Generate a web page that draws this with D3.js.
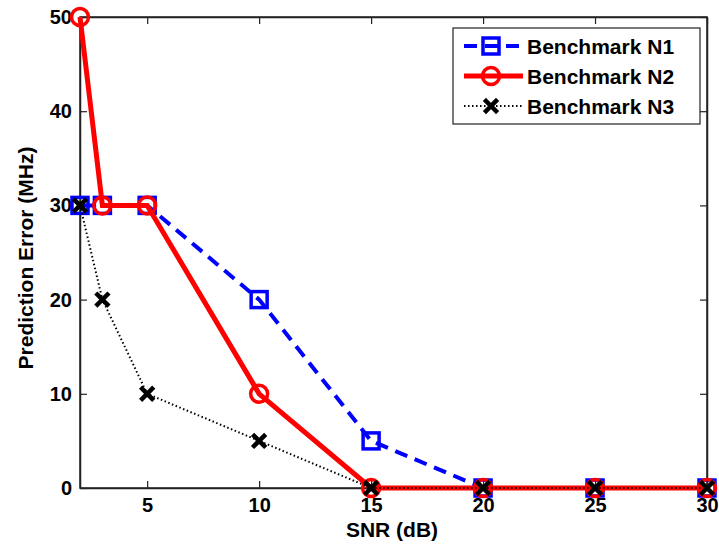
<!DOCTYPE html>
<html><head><meta charset="utf-8">
<script src="https://cdn.jsdelivr.net/npm/d3@7/dist/d3.min.js"></script>
<style>body{margin:0;background:#fff;} text{font-family:Arial,"Liberation Sans",sans-serif;font-weight:bold;}</style>
</head><body>
<svg id="c" width="719" height="548"></svg>
<script>
const snr = [2, 3, 5, 10, 15, 20, 25, 30];
const n1 = [30, 30, 30, 20, 5, 0, 0, 0];
const n2 = [50, 30, 30, 10, 0, 0, 0, 0];
const n3 = [30, 20, 10, 5, 0, 0, 0, 0];
const xTicks = [5, 10, 15, 20, 25, 30];
const yTicks = [0, 10, 20, 30, 40, 50];
const seriesNames = ["Benchmark N1", "Benchmark N2", "Benchmark N3"];

const svg = d3.select("#c");
const L = 80, R = 707, T = 17, B = 488;
const x = d3.scaleLinear().domain([2, 30]).range([L, R]);
const y = d3.scaleLinear().domain([0, 50]).range([B, T]);

// frame
svg.append("rect").attr("x", L).attr("y", T).attr("width", R - L).attr("height", B - T)
  .attr("fill", "none").attr("stroke", "#222").attr("stroke-width", 1.5);

const tickLen = 7;
const gx = svg.append("g").attr("transform", `translate(0,${B})`)
  .call(d3.axisBottom(x).tickValues(xTicks).tickSizeInner(-tickLen).tickSizeOuter(0).tickPadding(10));
const gxt = svg.append("g").attr("transform", `translate(0,${T})`)
  .call(d3.axisTop(x).tickValues(xTicks).tickSizeInner(-tickLen).tickSizeOuter(0).tickFormat(""));
const gy = svg.append("g").attr("transform", `translate(${L},0)`)
  .call(d3.axisLeft(y).tickValues(yTicks).tickSizeInner(-tickLen).tickSizeOuter(0).tickPadding(8));
const gyr = svg.append("g").attr("transform", `translate(${R},0)`)
  .call(d3.axisRight(y).tickValues(yTicks).tickSizeInner(-tickLen).tickSizeOuter(0).tickFormat(""));
[gx, gxt, gy, gyr].forEach(g => {
  g.select(".domain").attr("stroke", "#222").attr("stroke-width", 1.5);
  g.selectAll(".tick line").attr("stroke", "#222").attr("stroke-width", 1.2);
  g.selectAll("text").attr("font-size", 20).attr("fill", "#000")
    .attr("font-family", "Arial,'Liberation Sans',sans-serif").attr("font-weight", "bold");
});

svg.append("text").attr("x", 392).attr("y", 537).attr("text-anchor", "middle")
  .attr("font-size", 21).text("SNR (dB)");
svg.append("text").attr("transform", `translate(33,258) rotate(-90)`)
  .attr("text-anchor", "middle").attr("font-size", 21).text("Prediction Error (MHz)");

const line = d3.line().x(d => x(d[0])).y(d => y(d[1]));
const styles = [
  {color: "#0000ff", width: 4, dash: "13,8", marker: "square"},
  {color: "#ff0000", width: 5, dash: null, marker: "circle"},
  {color: "#000000", width: 2, dash: "1.5,2.5", marker: "x"}
];
const data = [n1, n2, n3].map(s => snr.map((v, i) => [v, s[i]]));

function drawMarker(g, type, cx, cy, color) {
  if (type === "square") {
    g.append("rect").attr("x", cx - 8).attr("y", cy - 8).attr("width", 16).attr("height", 16)
      .attr("fill", "none").attr("stroke", color).attr("stroke-width", 3.5);
  } else if (type === "circle") {
    g.append("circle").attr("cx", cx).attr("cy", cy).attr("r", 8.5)
      .attr("fill", "none").attr("stroke", color).attr("stroke-width", 3.5);
  } else {
    const s = 5;
    g.append("path").attr("d", `M${cx - s},${cy - s}L${cx + s},${cy + s}M${cx - s},${cy + s}L${cx + s},${cy - s}`)
      .attr("stroke", color).attr("stroke-width", 4.5).attr("stroke-linecap", "square");
  }
}

data.forEach((d, k) => {
  const st = styles[k];
  const g = svg.append("g");
  g.append("path").datum(d).attr("d", line).attr("fill", "none").attr("stroke", st.color)
    .attr("stroke-width", st.width).attr("stroke-dasharray", st.dash);
  d.forEach(p => drawMarker(g, st.marker, x(p[0]), y(p[1]), st.color));
});

// legend
const lg = svg.append("g");
lg.append("rect").attr("x", 453).attr("y", 28).attr("width", 247).attr("height", 96)
  .attr("fill", "#fff").attr("stroke", "#222").attr("stroke-width", 1.2);
const ly = [46, 76, 106];
seriesNames.forEach((n, k) => {
  const st = styles[k];
  lg.append("line").attr("x1", 464).attr("x2", 523).attr("y1", ly[k]).attr("y2", ly[k])
    .attr("stroke", st.color).attr("stroke-width", st.width).attr("stroke-dasharray", st.dash);
  drawMarker(lg, st.marker, 491, ly[k], st.color);
  lg.append("text").attr("x", 527).attr("y", ly[k] + 7.5).attr("font-size", 21).text(n);
});
</script>
</body></html>
